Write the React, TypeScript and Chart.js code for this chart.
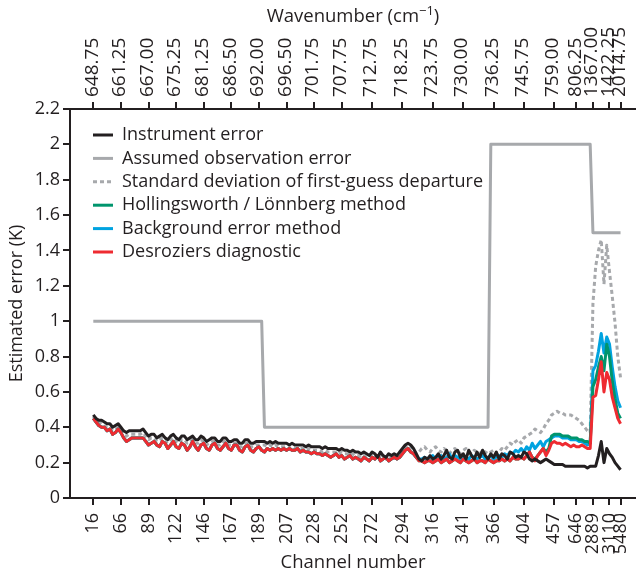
import React, { useEffect, useRef } from 'react';
import { Chart, registerables } from 'chart.js';

Chart.register(...registerables);

const FONT = "'Open Sans', 'Noto Sans', sans-serif";
const INK = '#231f20';

// Channel position (index in the used-channel list) for each labelled tick
const TICK_INDEX = [0, 10, 20, 30, 40, 50, 60, 70, 80, 90, 101, 112, 123, 134, 145, 156, 167, 175, 181, 187, 191];
const CHANNEL_LABELS = ['16', '66', '89', '122', '146', '167', '189', '207', '228', '252', '272', '294', '316', '341', '366', '404', '457', '646', '2889', '3110', '5480'];
const WAVENUMBER_LABELS = ['648.75', '661.25', '667.00', '675.25', '681.25', '686.50', '692.00', '696.50', '701.75', '707.75', '712.75', '718.25', '723.75', '730.00', '736.25', '745.75', '759.00', '806.25', '1367.00', '1422.25', '2014.75'];

const Y_TICKS = [0, 0.2, 0.4, 0.6, 0.8, 1, 1.2, 1.4, 1.6, 1.8, 2, 2.2];
const Y_LABELS = ['0', '0.2', '0.4', '0.6', '0.8', '1', '1.2', '1.4', '1.6', '1.8', '2', '2.2'];

const X_MIN = -8.44;
const X_MAX = 196.6;

// Assumed observation error is a step function: corner points only
const ASSUMED_INDEX = [0, 61, 62, 143, 144, 180, 181, 191];
const ASSUMED_ERROR = [1, 1, 0.4, 0.4, 2, 2, 1.5, 1.5];

const INSTRUMENT = [
  0.47, 0.45, 0.44, 0.44, 0.43, 0.42, 0.42, 0.40, 0.41, 0.42,
  0.40, 0.38, 0.37, 0.38, 0.38, 0.38, 0.38, 0.38, 0.39, 0.37,
  0.35, 0.36, 0.36, 0.34, 0.35, 0.36, 0.34, 0.33, 0.35, 0.36,
  0.34, 0.33, 0.35, 0.35, 0.33, 0.34, 0.35, 0.33, 0.33, 0.35,
  0.34, 0.32, 0.33, 0.34, 0.34, 0.32, 0.32, 0.34, 0.34, 0.32,
  0.32, 0.33, 0.33, 0.31, 0.31, 0.33, 0.33, 0.31, 0.31, 0.32,
  0.32, 0.32, 0.32, 0.31, 0.32, 0.31, 0.32, 0.31, 0.31, 0.31,
  0.31, 0.30, 0.31, 0.30, 0.30, 0.30, 0.30, 0.29, 0.30, 0.29,
  0.29, 0.29, 0.29, 0.28, 0.29, 0.28, 0.28, 0.28, 0.28, 0.27,
  0.28, 0.27, 0.27, 0.26, 0.27, 0.26, 0.26, 0.25, 0.26, 0.25,
  0.24, 0.26, 0.25, 0.23, 0.26, 0.24, 0.23, 0.25, 0.24, 0.25,
  0.24, 0.26, 0.28, 0.30, 0.31, 0.30, 0.28, 0.25, 0.22, 0.21,
  0.23, 0.22, 0.24, 0.22, 0.23, 0.25, 0.22, 0.24, 0.27, 0.23,
  0.22, 0.26, 0.27, 0.23, 0.25, 0.22, 0.27, 0.24, 0.22, 0.26,
  0.23, 0.27, 0.24, 0.22, 0.25, 0.23, 0.26, 0.22, 0.25, 0.24,
  0.22, 0.26, 0.25, 0.23, 0.24, 0.23, 0.26, 0.25, 0.22, 0.21,
  0.22, 0.21, 0.20, 0.21, 0.22, 0.21, 0.20, 0.19, 0.19, 0.19,
  0.19, 0.18, 0.18, 0.18, 0.18, 0.18, 0.18, 0.18, 0.18, 0.17,
  0.18, 0.18, 0.18, 0.24, 0.32, 0.20, 0.28, 0.25, 0.23, 0.20,
  0.18, 0.16,
];

const FG_DEPARTURE_STD = [
  0.46, 0.44, 0.43, 0.42, 0.41, 0.40, 0.40, 0.38, 0.39, 0.40,
  0.38, 0.36, 0.35, 0.36, 0.36, 0.36, 0.36, 0.36, 0.37, 0.35,
  0.33, 0.34, 0.34, 0.32, 0.33, 0.34, 0.32, 0.31, 0.33, 0.34,
  0.32, 0.31, 0.33, 0.33, 0.31, 0.32, 0.33, 0.31, 0.31, 0.33,
  0.32, 0.30, 0.31, 0.32, 0.32, 0.30, 0.30, 0.32, 0.32, 0.30,
  0.30, 0.31, 0.31, 0.29, 0.29, 0.31, 0.31, 0.29, 0.29, 0.30,
  0.30, 0.30, 0.30, 0.29, 0.30, 0.29, 0.30, 0.29, 0.29, 0.29,
  0.29, 0.28, 0.29, 0.28, 0.28, 0.28, 0.28, 0.27, 0.28, 0.27,
  0.27, 0.27, 0.27, 0.26, 0.27, 0.26, 0.26, 0.26, 0.26, 0.25,
  0.26, 0.25, 0.25, 0.24, 0.25, 0.24, 0.24, 0.23, 0.24, 0.23,
  0.23, 0.25, 0.24, 0.22, 0.24, 0.23, 0.22, 0.24, 0.23, 0.24,
  0.23, 0.25, 0.27, 0.29, 0.30, 0.29, 0.27, 0.25, 0.26, 0.28,
  0.29, 0.27, 0.26, 0.28, 0.29, 0.27, 0.26, 0.28, 0.27, 0.25,
  0.27, 0.28, 0.26, 0.25, 0.27, 0.28, 0.26, 0.25, 0.27, 0.26,
  0.25, 0.27, 0.26, 0.25, 0.26, 0.27, 0.25, 0.26, 0.28, 0.27,
  0.29, 0.31, 0.30, 0.32, 0.33, 0.31, 0.34, 0.35, 0.36, 0.37,
  0.39, 0.38, 0.37, 0.39, 0.42, 0.44, 0.47, 0.48, 0.49, 0.48,
  0.48, 0.47, 0.47, 0.47, 0.46, 0.45, 0.44, 0.42, 0.40, 0.38,
  0.37, 1.10, 1.31, 1.40, 1.46, 1.21, 1.43, 1.28, 1.14, 0.99,
  0.80, 0.68,
];

const HOLLINGSWORTH_LONNBERG = [
  0.45, 0.43, 0.41, 0.40, 0.40, 0.38, 0.39, 0.36, 0.37, 0.39,
  0.37, 0.34, 0.32, 0.33, 0.34, 0.34, 0.34, 0.34, 0.34, 0.32,
  0.30, 0.31, 0.32, 0.30, 0.29, 0.32, 0.31, 0.28, 0.30, 0.32,
  0.29, 0.28, 0.31, 0.30, 0.27, 0.29, 0.32, 0.29, 0.27, 0.30,
  0.31, 0.28, 0.27, 0.30, 0.31, 0.28, 0.27, 0.29, 0.31, 0.28,
  0.27, 0.30, 0.30, 0.27, 0.26, 0.29, 0.30, 0.27, 0.26, 0.28,
  0.29, 0.27, 0.26, 0.28, 0.27, 0.28, 0.27, 0.28, 0.27, 0.28,
  0.27, 0.28, 0.27, 0.27, 0.28, 0.26, 0.27, 0.26, 0.26, 0.25,
  0.26, 0.25, 0.25, 0.24, 0.25, 0.24, 0.23, 0.24, 0.25, 0.23,
  0.24, 0.22, 0.23, 0.24, 0.22, 0.23, 0.22, 0.21, 0.23, 0.22,
  0.21, 0.23, 0.22, 0.24, 0.21, 0.22, 0.23, 0.21, 0.22, 0.23,
  0.22, 0.23, 0.25, 0.27, 0.28, 0.26, 0.25, 0.23, 0.21, 0.21,
  0.20, 0.21, 0.21, 0.20, 0.21, 0.22, 0.20, 0.21, 0.22, 0.20,
  0.21, 0.22, 0.21, 0.20, 0.22, 0.21, 0.20, 0.21, 0.22, 0.20,
  0.21, 0.21, 0.20, 0.22, 0.21, 0.20, 0.21, 0.21, 0.22, 0.21,
  0.22, 0.21, 0.23, 0.22, 0.22, 0.23, 0.22, 0.24, 0.26, 0.23,
  0.22, 0.24, 0.26, 0.28, 0.26, 0.28, 0.35, 0.36, 0.36, 0.36,
  0.35, 0.35, 0.35, 0.34, 0.34, 0.34, 0.33, 0.33, 0.32, 0.32,
  0.31, 0.63, 0.67, 0.74, 0.80, 0.72, 0.87, 0.80, 0.66, 0.56,
  0.48, 0.45,
];

const BACKGROUND_ERROR = [
  0.45, 0.43, 0.41, 0.40, 0.40, 0.38, 0.39, 0.36, 0.37, 0.39,
  0.37, 0.34, 0.32, 0.33, 0.34, 0.34, 0.34, 0.34, 0.34, 0.32,
  0.30, 0.31, 0.32, 0.30, 0.29, 0.32, 0.31, 0.28, 0.30, 0.32,
  0.29, 0.28, 0.31, 0.30, 0.27, 0.29, 0.32, 0.29, 0.27, 0.30,
  0.31, 0.28, 0.27, 0.30, 0.31, 0.28, 0.27, 0.29, 0.31, 0.28,
  0.27, 0.30, 0.30, 0.27, 0.26, 0.29, 0.30, 0.27, 0.26, 0.28,
  0.29, 0.27, 0.26, 0.28, 0.27, 0.28, 0.27, 0.28, 0.27, 0.28,
  0.27, 0.28, 0.27, 0.27, 0.28, 0.26, 0.27, 0.26, 0.26, 0.25,
  0.26, 0.25, 0.25, 0.24, 0.25, 0.24, 0.23, 0.24, 0.25, 0.23,
  0.24, 0.22, 0.23, 0.24, 0.22, 0.23, 0.22, 0.21, 0.23, 0.22,
  0.21, 0.23, 0.22, 0.24, 0.21, 0.22, 0.23, 0.21, 0.22, 0.23,
  0.22, 0.23, 0.25, 0.27, 0.28, 0.26, 0.25, 0.23, 0.22, 0.22,
  0.23, 0.22, 0.23, 0.24, 0.22, 0.23, 0.24, 0.22, 0.23, 0.25,
  0.22, 0.24, 0.23, 0.22, 0.24, 0.23, 0.22, 0.24, 0.23, 0.22,
  0.23, 0.24, 0.22, 0.23, 0.24, 0.22, 0.23, 0.24, 0.23, 0.25,
  0.24, 0.26, 0.25, 0.27, 0.26, 0.28, 0.26, 0.29, 0.27, 0.31,
  0.28, 0.30, 0.32, 0.29, 0.32, 0.33, 0.34, 0.35, 0.35, 0.35,
  0.34, 0.34, 0.34, 0.33, 0.33, 0.33, 0.32, 0.32, 0.31, 0.30,
  0.31, 0.72, 0.75, 0.83, 0.93, 0.82, 0.91, 0.87, 0.74, 0.63,
  0.55, 0.51,
];

const DESROZIERS = [
  0.45, 0.43, 0.41, 0.40, 0.40, 0.38, 0.39, 0.36, 0.37, 0.39,
  0.37, 0.34, 0.32, 0.33, 0.34, 0.34, 0.34, 0.34, 0.34, 0.32,
  0.30, 0.31, 0.32, 0.30, 0.29, 0.32, 0.31, 0.28, 0.30, 0.32,
  0.29, 0.28, 0.31, 0.30, 0.27, 0.29, 0.32, 0.29, 0.27, 0.30,
  0.31, 0.28, 0.27, 0.30, 0.31, 0.28, 0.27, 0.29, 0.31, 0.28,
  0.27, 0.30, 0.30, 0.27, 0.26, 0.29, 0.30, 0.27, 0.26, 0.28,
  0.29, 0.27, 0.26, 0.28, 0.27, 0.28, 0.27, 0.28, 0.27, 0.28,
  0.27, 0.28, 0.27, 0.27, 0.28, 0.26, 0.27, 0.26, 0.26, 0.25,
  0.26, 0.25, 0.25, 0.24, 0.25, 0.24, 0.23, 0.24, 0.25, 0.23,
  0.24, 0.22, 0.23, 0.24, 0.22, 0.23, 0.22, 0.21, 0.23, 0.22,
  0.21, 0.23, 0.22, 0.24, 0.21, 0.22, 0.23, 0.21, 0.22, 0.23,
  0.22, 0.23, 0.25, 0.27, 0.28, 0.26, 0.25, 0.23, 0.21, 0.21,
  0.20, 0.21, 0.21, 0.20, 0.21, 0.22, 0.20, 0.21, 0.22, 0.20,
  0.21, 0.22, 0.21, 0.20, 0.22, 0.21, 0.20, 0.21, 0.22, 0.20,
  0.21, 0.21, 0.20, 0.22, 0.21, 0.20, 0.21, 0.21, 0.22, 0.21,
  0.22, 0.21, 0.23, 0.22, 0.22, 0.23, 0.22, 0.24, 0.26, 0.23,
  0.21, 0.24, 0.26, 0.28, 0.24, 0.27, 0.31, 0.32, 0.31, 0.31,
  0.30, 0.31, 0.30, 0.29, 0.30, 0.29, 0.29, 0.30, 0.29, 0.28,
  0.28, 0.57, 0.58, 0.67, 0.77, 0.60, 0.71, 0.67, 0.57, 0.51,
  0.45, 0.42,
];

const toPoints = (values: number[]) => values.map((y, x) => ({ x, y }));

// Inset legend and the top-axis title (with superscript) drawn on the canvas
const overlayPlugin = {
  id: 'overlayText',
  afterDraw(chart: any) {
    const { ctx, chartArea } = chart;
    ctx.save();
    ctx.font = `18px ${FONT}`;
    ctx.textBaseline = 'middle';
    ctx.textAlign = 'left';
    chart.data.datasets.forEach((ds: any, i: number) => {
      const y = chartArea.top + 26 + i * 23.4;
      ctx.beginPath();
      ctx.lineWidth = ds.borderWidth;
      ctx.strokeStyle = ds.borderColor;
      ctx.setLineDash(ds.borderDash || []);
      ctx.moveTo(chartArea.left + 23, y);
      ctx.lineTo(chartArea.left + 43, y);
      ctx.stroke();
      ctx.setLineDash([]);
      ctx.fillStyle = INK;
      ctx.fillText(ds.label, chartArea.left + 52, y);
    });

    const main = 'Wavenumber (cm';
    const sup = '\u22121';
    const tail = ')';
    ctx.font = `18.5px ${FONT}`;
    const wMain = ctx.measureText(main).width;
    const wTail = ctx.measureText(tail).width;
    ctx.font = `13px ${FONT}`;
    const wSup = ctx.measureText(sup).width;
    const total = wMain + wSup + wTail;
    const cx = (chartArea.left + chartArea.right) / 2;
    let x = cx - total / 2;
    const y = 17;
    ctx.fillStyle = INK;
    ctx.font = `18.5px ${FONT}`;
    ctx.fillText(main, x, y);
    x += wMain;
    ctx.font = `13px ${FONT}`;
    ctx.fillText(sup, x, y - 6);
    x += wSup;
    ctx.font = `18.5px ${FONT}`;
    ctx.fillText(tail, x, y);
    ctx.restore();
  },
};

const tickFont = { family: FONT, size: 18 };
const axisGrid = { display: true, drawOnChartArea: false, drawTicks: true, tickLength: 7, color: INK, lineWidth: 2 };
const axisBorder = { display: true, color: INK, width: 2 };

export default function App() {
  const canvasRef = useRef<HTMLCanvasElement | null>(null);

  useEffect(() => {
    const canvas = canvasRef.current;
    if (!canvas) return;
    const chart = new Chart(canvas, {
      type: 'line',
      data: {
        datasets: [
          { label: 'Instrument error', data: toPoints(INSTRUMENT), borderColor: INK, borderWidth: 3, order: 0 },
          {
            label: 'Assumed observation error',
            data: ASSUMED_INDEX.map((x, i) => ({ x, y: ASSUMED_ERROR[i] })),
            borderColor: '#a7a9ac', borderWidth: 3, order: 5,
          },
          {
            label: 'Standard deviation of first-guess departure',
            data: toPoints(FG_DEPARTURE_STD), borderColor: '#a7a9ac', borderWidth: 3, borderDash: [4, 3], order: 4,
          },
          { label: 'Hollingsworth / Lönnberg method', data: toPoints(HOLLINGSWORTH_LONNBERG), borderColor: '#00956d', borderWidth: 3, order: 2 },
          { label: 'Background error method', data: toPoints(BACKGROUND_ERROR), borderColor: '#00a3e0', borderWidth: 3, order: 3 },
          { label: 'Desroziers diagnostic', data: toPoints(DESROZIERS), borderColor: '#ee2b31', borderWidth: 3, order: 1 },
        ],
      },
      options: {
        animation: false,
        responsive: false,
        maintainAspectRatio: false,
        parsing: false,
        normalized: true,
        layout: { padding: 0 },
        elements: {
          point: { radius: 0, hoverRadius: 0 },
          line: { tension: 0, borderJoinStyle: 'round', fill: false },
        },
        plugins: { legend: { display: false }, tooltip: { enabled: false } },
        scales: {
          x: {
            type: 'linear',
            position: 'bottom',
            min: X_MIN,
            max: X_MAX,
            afterBuildTicks: (s: any) => { s.ticks = TICK_INDEX.map((value) => ({ value })); },
            afterFit: (s: any) => { s.height = 81; s.paddingLeft = 0; s.paddingRight = 0; },
            ticks: {
              autoSkip: false, minRotation: 90, maxRotation: 90, padding: 8, color: INK, font: tickFont,
              callback: (_v: any, i: number) => CHANNEL_LABELS[i],
            },
            grid: axisGrid,
            border: axisBorder,
            title: { display: true, text: 'Channel number', color: INK, font: { family: FONT, size: 18.5 }, padding: { top: 0, bottom: 5 } },
          },
          x2: {
            type: 'linear',
            position: 'top',
            min: X_MIN,
            max: X_MAX,
            afterBuildTicks: (s: any) => { s.ticks = TICK_INDEX.map((value) => ({ value })); },
            afterFit: (s: any) => { s.height = 109; s.paddingLeft = 0; s.paddingRight = 0; },
            ticks: {
              autoSkip: false, minRotation: 90, maxRotation: 90, padding: 5, labelOffset: 21.6, color: INK, font: { family: FONT, size: 19 },
              callback: (_v: any, i: number) => WAVENUMBER_LABELS[i],
            },
            grid: axisGrid,
            border: axisBorder,
          },
          y: {
            type: 'linear',
            min: 0,
            max: 2.2,
            afterBuildTicks: (s: any) => { s.ticks = Y_TICKS.map((value) => ({ value })); },
            afterFit: (s: any) => { s.width = 70; s.paddingTop = 0; s.paddingBottom = 0; },
            ticks: { padding: 3, color: INK, font: tickFont, callback: (_v: any, i: number) => Y_LABELS[i] },
            grid: axisGrid,
            border: axisBorder,
            title: { display: true, text: 'Estimated error (K)', color: INK, font: { family: FONT, size: 18 }, padding: { top: 6, bottom: 0 } },
          },
        },
      } as any,
      plugins: [overlayPlugin],
    });
    return () => chart.destroy();
  }, []);

  return (
    <div style={{ position: 'absolute', left: 0, top: 0, width: 636, height: 579, background: '#fff' }}>
      <canvas ref={canvasRef} width={636} height={579} style={{ display: 'block' }} />
    </div>
  );
}
